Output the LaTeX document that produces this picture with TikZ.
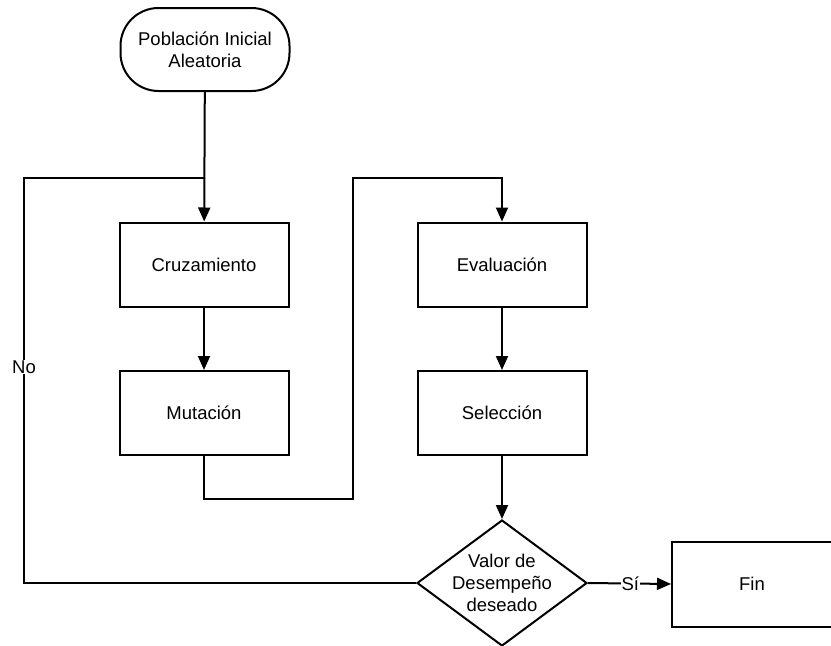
\documentclass[tikz,border=0pt]{standalone}
\usepackage{fontspec}
\setmainfont{Liberation Sans}
\usetikzlibrary{arrows.meta}
\usetikzlibrary{shapes.geometric,positioning}

\begin{document}
\begin{tikzpicture}[x=1pt,y=-1pt,line width=2pt,>={Triangle[length=14pt,width=12pt]}]
		\tikzset{caja/.style={draw,minimum width=169pt,minimum height=84pt,align=center,font=\fontsize{18.5}{22}\selectfont},
		etiqueta/.style={fill=white,inner sep=1pt,font=\fontsize{18.5}{22}\selectfont}}
		\useasboundingbox (0,0) rectangle (831,646);
		
		\node[caja,rounded corners=38pt,minimum height=83pt] (ini) at (205,49.5) {Población Inicial\\Aleatoria};
		\node[caja] (cruz) at (204,264.5) {Cruzamiento};
		\node[caja] (mut) at (204,413) {Mutación};
		\node[caja] (eval) at (502,264.5) {Evaluación};
		\node[caja] (sel) at (502,413) {Selección};
		\node[draw,diamond,minimum width=170pt,minimum height=126pt,inner sep=0pt] (dec) at (502,583) {};
		\node[align=center,font=\fontsize{18.5}{22}\selectfont] (dectxt) at (dec) {Valor de\\Desempeño\\deseado};
		\node[caja,minimum width=160pt,minimum height=85pt] (fin) at (752,584) {Fin};
		
		\coordinate (j) at (204,178) ; %union
		\coordinate (m1) at (353,499) ;
		\coordinate (e1) at (502,178) ;
		\coordinate (n1) at (24,178) ;
		
		\draw[->] (ini) -- (cruz);
		\draw[->] (cruz) -- (mut);
		\draw[->] (eval) -- (sel);
		\draw[->] (sel) -- (dec);
		\draw[->] (mut.south) |- (m1) |- (e1) -- (eval.north);
		\draw (dec.west) -| (n1) -- (j);
		\node[etiqueta] (no) at (24,367) {No};
		\draw[->] (dec.east) -- node[etiqueta,pos=0.51] (si) {Sí} (fin.west);
\end{tikzpicture}
\end{document}
